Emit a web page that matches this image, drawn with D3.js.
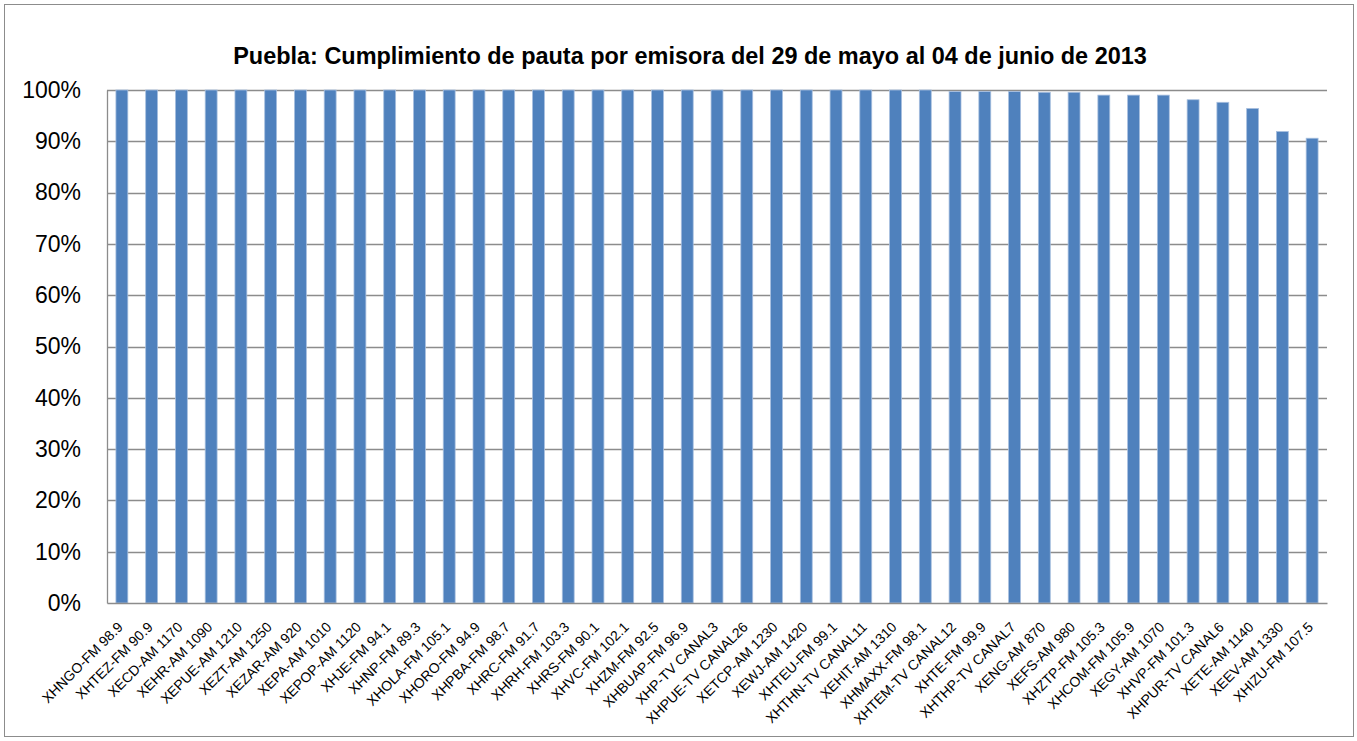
<!DOCTYPE html>
<html><head><meta charset="utf-8">
<script src="https://cdn.jsdelivr.net/npm/d3@7"></script>
<style>body{margin:0;background:#fff}svg{display:block}</style>
</head><body>
<svg id="chart" width="1357" height="741"></svg>
<script>
const categories = ["XHNGO-FM 98.9","XHTEZ-FM 90.9","XECD-AM 1170","XEHR-AM 1090","XEPUE-AM 1210","XEZT-AM 1250","XEZAR-AM 920","XEPA-AM 1010","XEPOP-AM 1120","XHJE-FM 94.1","XHNP-FM 89.3","XHOLA-FM 105.1","XHORO-FM 94.9","XHPBA-FM 98.7","XHRC-FM 91.7","XHRH-FM 103.3","XHRS-FM 90.1","XHVC-FM 102.1","XHZM-FM 92.5","XHBUAP-FM 96.9","XHP-TV CANAL3","XHPUE-TV CANAL26","XETCP-AM 1230","XEWJ-AM 1420","XHTEU-FM 99.1","XHTHN-TV CANAL11","XEHIT-AM 1310","XHMAXX-FM 98.1","XHTEM-TV CANAL12","XHTE-FM 99.9","XHTHP-TV CANAL7","XENG-AM 870","XEFS-AM 980","XHZTP-FM 105.3","XHCOM-FM 105.9","XEGY-AM 1070","XHVP-FM 101.3","XHPUR-TV CANAL6","XETE-AM 1140","XEEV-AM 1330","XHIZU-FM 107.5"];
const values = [1,1,1,1,1,1,1,1,1,1,1,1,1,1,1,1,1,1,1,1,1,1,1,1,1,1,1,1,0.997,0.997,0.997,0.9955,0.9955,0.990,0.990,0.990,0.981,0.976,0.964,0.919,0.906];
const yTicks = [0,0.1,0.2,0.3,0.4,0.5,0.6,0.7,0.8,0.9,1];
const title = "Puebla: Cumplimiento de pauta por emisora del 29 de mayo al 04 de junio de 2013";

const svg = d3.select("#chart");
const m = {left:107, right:1327, top:90, bottom:603};

svg.append("rect").attr("x",4.5).attr("y",4.5).attr("width",1349).attr("height",732)
  .attr("fill","#fff").attr("stroke","#8c8c8c").attr("stroke-width",1);

const x = d3.scaleBand().domain(categories).range([m.left, m.right]).paddingInner(0.6).paddingOuter(0.3);
const y = d3.scaleLinear().domain([0,1]).range([m.bottom, m.top]);

// gridlines
svg.append("g").selectAll("line").data(yTicks.filter(d=>d>0)).join("line")
  .attr("x1",m.left).attr("x2",m.right)
  .attr("y1",d=>Math.round(y(d))+0.5).attr("y2",d=>Math.round(y(d))+0.5)
  .attr("stroke","#8c8c8c").attr("stroke-width",1.3);

// bars
svg.append("g").selectAll("rect").data(categories).join("rect")
  .attr("x",(d)=>x(d)).attr("width",x.bandwidth())
  .attr("y",(d,i)=>y(values[i])).attr("height",(d,i)=>m.bottom - y(values[i]))
  .attr("fill","#4f81bd").attr("stroke","#a7bfdf").attr("stroke-width",0.8);

// y axis
const yAxis = d3.axisLeft(y).tickValues(yTicks).tickFormat(d3.format(".0%")).tickSize(0).tickPadding(26);
const gy = svg.append("g").attr("transform",`translate(${m.left},0)`).call(yAxis);
gy.select(".domain").attr("stroke","#8c8c8c").attr("stroke-width",1.3);
gy.selectAll("text").attr("font-family","'Liberation Sans', Arial, sans-serif").attr("font-size",23).attr("fill","#000");

// x axis
const xAxis = d3.axisBottom(x).tickSize(0).tickPadding(0);
const gx = svg.append("g").attr("transform",`translate(0,${m.bottom})`).call(xAxis);
gx.select(".domain").attr("stroke","#8c8c8c").attr("stroke-width",1.5);
gx.selectAll("text")
  .attr("font-family","'Liberation Sans', Arial, sans-serif").attr("font-size",14).attr("fill","#000")
  .attr("text-anchor","end").attr("dy",null).attr("y",0)
  .attr("transform","translate(2,25) rotate(-45)");

// title
const t = svg.append("text").attr("x",690).attr("y",64).attr("text-anchor","middle")
  .attr("font-family","'Liberation Sans', Arial, sans-serif").attr("font-weight","bold")
  .attr("font-size",19).attr("fill","#000").text(title);
const tw = t.node().getComputedTextLength();
t.attr("font-size", 19*914/tw);
</script>
</body></html>
